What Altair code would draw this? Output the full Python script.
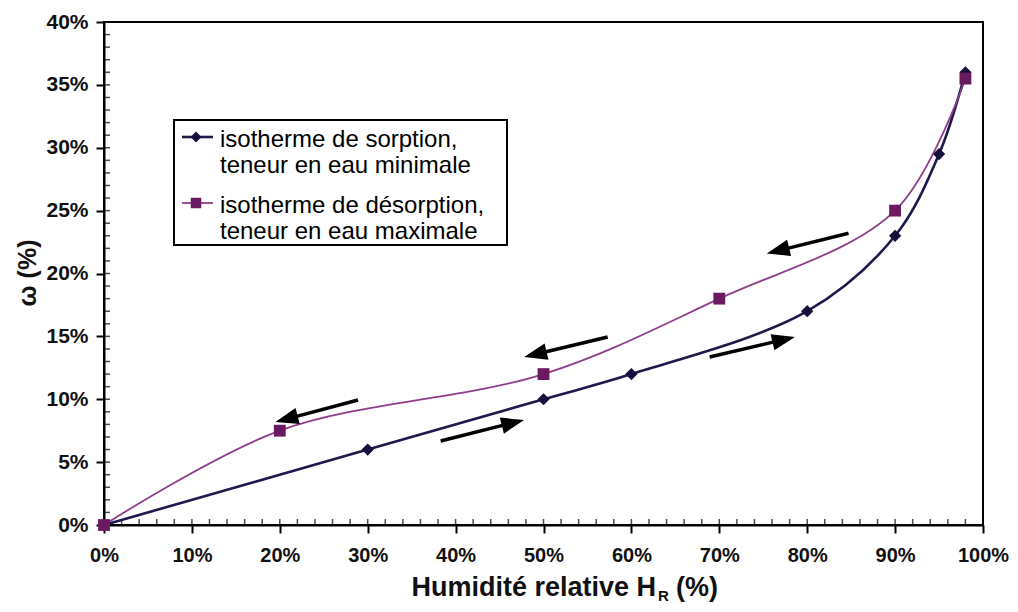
import math
import altair as alt
import pandas as pd

# ---------------- data ----------------
hr_sorption = [0, 30, 50, 60, 80, 90, 95, 98]
w_sorption = [0, 6, 10, 12, 17, 23, 29.5, 36]

hr_desorption = [0, 20, 50, 70, 90, 98]
w_desorption = [0, 7.5, 12, 18, 25, 35.5]

x_ticks = [0, 10, 20, 30, 40, 50, 60, 70, 80, 90, 100]
y_ticks = [0, 5, 10, 15, 20, 25, 30, 35, 40]
x_minor = list(range(0, 101, 2))
y_minor = list(range(0, 41, 1))

legend_lines_sorption = ["isotherme de sorption,", "teneur en eau minimale"]
legend_lines_desorption = ["isotherme de désorption,", "teneur en eau maximale"]

x_title_main = "Humidité relative H"
x_title_sub = "R"
x_title_end = "(%)"
y_title = "ω (%)"

# arrows (start -> tip), in data units
arrow_x1 = [84.7, 57.3, 28.9, 38.3, 68.9]
arrow_y1 = [23.2, 14.95, 9.94, 6.68, 13.36]
arrow_x2 = [75.4, 47.8, 19.5, 47.8, 78.6]
arrow_y2 = [21.6, 13.36, 8.19, 8.35, 14.95]

# ---------------- styling ----------------
W, H = 879, 503
X_MAX, Y_MAX = 100, 40
FONT = "Liberation Sans"
C_SORP = "#1d1a4b"
C_SORP_PT = "#160f3c"
C_DESORP = "#8e3d8a"
C_DESORP_PT = "#6a1a5e"

px = W / X_MAX
py = H / Y_MAX

xs = alt.Scale(domain=[0, X_MAX], nice=False, zero=False)
ys = alt.Scale(domain=[0, Y_MAX], nice=False, zero=False)

xaxis = alt.Axis(values=x_ticks, labelExpr="datum.value + '%'", title=None,
                 grid=False, tickSize=8, tickWidth=2, tickColor="black",
                 domainColor="black", domainWidth=2, labelPadding=12,
                 labelFont=FONT, labelFontSize=20, labelFontWeight="bold",
                 labelColor="#111111", labelFlush=False, labelOverlap=False)
yaxis = alt.Axis(values=y_ticks, labelExpr="datum.value + '%'", title=None,
                 grid=False, tickSize=8, tickWidth=2, tickColor="black",
                 domainColor="black", domainWidth=2, labelPadding=8,
                 labelFont=FONT, labelFontSize=21, labelFontWeight="bold",
                 labelColor="#111111", labelOverlap=False)

def X(field="hr"):
    return alt.X(f"{field}:Q", scale=xs, axis=xaxis)

def Y(field="w"):
    return alt.Y(f"{field}:Q", scale=ys, axis=yaxis)

sorp_df = pd.DataFrame({"hr": hr_sorption, "w": w_sorption})
desorp_df = pd.DataFrame({"hr": hr_desorption, "w": w_desorption})

# minor (inner) ticks
minor_x = alt.Chart(pd.DataFrame({"hr": x_minor})).mark_tick(
    color="black", thickness=1.5, size=6).encode(x=X(), y=alt.value(H - 3))
minor_y = alt.Chart(pd.DataFrame({"w": y_minor})).mark_tick(
    color="black", thickness=1.5, size=6).encode(y=Y(), x=alt.value(3))

line_s = alt.Chart(sorp_df).mark_line(
    color=C_SORP, strokeWidth=2.6, interpolate="catmull-rom").encode(x=X(), y=Y())
line_d = alt.Chart(desorp_df).mark_line(
    color=C_DESORP, strokeWidth=1.8, interpolate="catmull-rom").encode(x=X(), y=Y())
pts_s = alt.Chart(sorp_df).mark_point(
    shape="diamond", filled=True, size=150, color=C_SORP_PT, opacity=1).encode(x=X(), y=Y())
pts_d = alt.Chart(desorp_df).mark_point(
    shape="square", filled=True, size=140, color=C_DESORP_PT, opacity=1).encode(x=X(), y=Y())

# arrows
head_len = 23.0
rows = []
for x1, y1, x2, y2 in zip(arrow_x1, arrow_y1, arrow_x2, arrow_y2):
    dxp = (x2 - x1) * px
    dyp = (y2 - y1) * py
    L = math.hypot(dxp, dyp)
    f = (head_len * 0.7) / L
    ang = math.degrees(math.atan2(dxp, dyp)) % 360
    rows.append({"x1": x1, "y1": y1, "x2": x2, "y2": y2,
                 "xs": x2 - (x2 - x1) * f, "ys": y2 - (y2 - y1) * f, "ang": ang})
arrow_df = pd.DataFrame(rows)

shafts = alt.Chart(arrow_df).mark_rule(color="black", strokeWidth=3.4, strokeCap="butt").encode(
    x=X("x1"), y=Y("y1"), x2="xs:Q", y2="ys:Q")
heads = alt.Chart(arrow_df).mark_point(
    shape="M0,0L-0.72,2L0.72,2Z", filled=True, color="black", opacity=1, size=head_len ** 2).encode(
    x=X("x2"), y=Y("y2"), angle=alt.Angle("ang:Q", scale=None))

one = pd.DataFrame({"k": [0]})

# legend (drawn by hand inside the plot)
leg_box = alt.Chart(one).mark_rect(fill="white", stroke="black", strokeWidth=2).encode(
    x=alt.value(70), x2=alt.value(403), y=alt.value(98), y2=alt.value(223))
leg_line_s = alt.Chart(one).mark_rule(color=C_SORP, strokeWidth=2.6).encode(
    x=alt.value(78), x2=alt.value(109), y=alt.value(115))
leg_line_d = alt.Chart(one).mark_rule(color=C_DESORP, strokeWidth=1.8).encode(
    x=alt.value(78), x2=alt.value(109), y=alt.value(181))
leg_pt_s = alt.Chart(one).mark_point(shape="diamond", filled=True, size=120,
                                     color=C_SORP_PT, opacity=1).encode(
    x=alt.value(92), y=alt.value(115))
leg_pt_d = alt.Chart(one).mark_point(shape="square", filled=True, size=110,
                                     color=C_DESORP_PT, opacity=1).encode(
    x=alt.value(92), y=alt.value(181))

leg_texts = []
for lines, y0 in ((legend_lines_sorption, 125), (legend_lines_desorption, 191)):
    for i, t in enumerate(lines):
        leg_texts.append(alt.Chart(one).mark_text(
            text=t, font=FONT, fontSize=24, color="black", align="left",
            baseline="alphabetic").encode(x=alt.value(116), y=alt.value(y0 + 26 * i)))

# axis titles
tx_main = alt.Chart(one).mark_text(text=x_title_main, font=FONT, fontSize=27, fontWeight="bold",
                                   color="#111111", align="right", baseline="alphabetic").encode(
    x=alt.value(552), y=alt.value(574))
tx_sub = alt.Chart(one).mark_text(text=x_title_sub, font=FONT, fontSize=15, fontWeight="bold",
                                  color="#111111", align="left", baseline="alphabetic").encode(
    x=alt.value(554), y=alt.value(579))
tx_end = alt.Chart(one).mark_text(text=x_title_end, font=FONT, fontSize=27, fontWeight="bold",
                                  color="#111111", align="left", baseline="alphabetic").encode(
    x=alt.value(572), y=alt.value(574))
ty = alt.Chart(one).mark_text(text=y_title, font=FONT, fontSize=25, fontWeight="bold",
                              color="#111111", align="center", baseline="middle", angle=270).encode(
    x=alt.value(-76), y=alt.value(251))

chart = alt.layer(
    minor_x, minor_y, line_s, line_d, pts_s, pts_d, shafts, heads,
    leg_box, leg_line_s, leg_line_d, leg_pt_s, leg_pt_d, *leg_texts,
    tx_main, tx_sub, tx_end, ty
).properties(
    width=W, height=H, autosize="none",
    padding={"left": 96, "top": 14, "right": 27, "bottom": 79},
    background="white"
).configure_view(stroke="black", strokeWidth=2)

chart.save("out.html", embed_options={"renderer": "svg", "actions": False})
